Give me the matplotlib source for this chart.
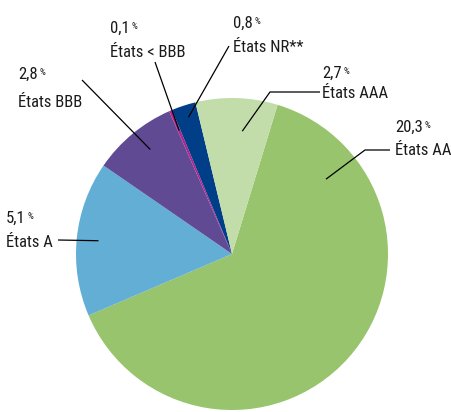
import os
import matplotlib
matplotlib.use("Agg")
import matplotlib.pyplot as plt
from matplotlib import font_manager
from matplotlib.textpath import TextPath
import numpy as np

# données (en %)
labels = ['États AA', 'États A', 'États BBB', 'États < BBB', 'États NR**', 'États AAA']
values = [20.3, 5.1, 2.8, 0.1, 0.8, 2.7]
value_txt = ['20,3', '5,1', '2,8', '0,1', '0,8', '2,7']
colors = ['#97c46c', '#62aed5', '#614a94', '#b3238e', '#003f87', '#c2dcaa']


# police sans-serif la plus étroite parmi les condensées installées
def pick_font():
    fams = ('Noto Sans', 'Roboto', 'Open Sans', 'Liberation Sans', 'DejaVu Sans', 'Lato', 'Inter')
    bad = ['Bold', 'Black', 'Light', 'Thin', 'Italic', 'Oblique', 'Heavy', 'Semi', 'Extra',
           'Mono', 'Serif', 'Math', 'Symbol', 'Code', 'CJK']
    best, best_r = None, 1e9
    for f in font_manager.fontManager.ttflist:
        base = os.path.basename(f.fname)
        if not ('Condensed' in base or 'Narrow' in base):
            continue
        if not f.name.startswith(fams) or any(b in f.name for b in ['Mono', 'CJK', 'Serif']):
            continue
        stem = base.replace('ExtraCondensed', 'XC').replace('SemiCondensed', 'SC')
        if any(b in stem for b in bad) or '[' in base:
            continue
        try:
            p = font_manager.FontProperties(fname=f.fname)
            w = TextPath((0, 0), 'États AA', size=100, prop=p).get_extents().width
            h = TextPath((0, 0), 'E', size=100, prop=p).get_extents().height
        except Exception:
            continue
        r = w / h
        if r < best_r:
            best, best_r = p, r
    if best is None:
        best = font_manager.FontProperties(family='DejaVu Sans')
    return best


fp = pick_font()

W, H = 452, 412
fig = plt.figure(figsize=(W / 100, H / 100), dpi=100)
ax = fig.add_axes([0, 0, 1, 1])

# taille : « États AA » ~56 px de large (mesuré au rendu)
rend = fig.canvas.get_renderer()
probe = fig.text(0, 0, 'États AA', fontproperties=fp, fontsize=10)
pw = probe.get_window_extent(rend).width
probe.remove()
fs = min(10 * 56 / pw, 14.5)

cx, cy, R = 232, H - 254, 156
wedges, _ = ax.pie(values, colors=colors, startangle=73, counterclock=False,
                   center=(cx, cy), radius=R, frame=True,
                   wedgeprops=dict(linewidth=0))
ax.set_xlim(0, W)
ax.set_ylim(0, H)
ax.set_aspect('equal')
ax.axis('off')

# position des étiquettes (px depuis le haut) : x, ligne chiffre, ligne texte
lab_pos = [(395, 132, 155), (6, 223, 247), (18, 79, 107),
           (110, 33, 57), (233, 28, 52), (322, 78, 98)]
# point d'ancrage dans la part : fraction d'angle, fraction de rayon
anchor = [(0.15, 0.77), (0.5, 0.86), (0.55, 0.85), (0.5, 0.86), (0.55, 0.92), (0.6, 0.79)]
# départ du trait (px depuis le haut), coude éventuel
line_start = [(390, 150, 365), (58, 240, None), (82, 80, None),
              (155, 62, None), (229, 46, None), (320, 92, 270)]

for i, w in enumerate(wedges):
    x0, yb1, yb2 = lab_pos[i]
    num = ax.text(x0, H - yb1, value_txt[i], fontproperties=fp, fontsize=fs,
                  va='baseline', ha='left', color='#1a1a1a')
    ax.annotate('%', xy=(1, 1), xycoords=num, xytext=(1.5, -1), textcoords='offset points',
                fontproperties=fp, fontsize=fs * 0.55, va='top', ha='left', color='#1a1a1a')
    ax.text(x0, H - yb2, labels[i], fontproperties=fp, fontsize=fs,
            va='baseline', ha='left', color='#1a1a1a')

    fa, fr = anchor[i]
    t1, t2 = w.theta1, w.theta2
    ang = np.deg2rad(t2 - fa * (t2 - t1))
    ex = cx + fr * R * np.cos(ang)
    ey = cy + fr * R * np.sin(ang)
    sx, sy, elbow = line_start[i]
    xs = [sx]
    ys = [H - sy]
    if elbow is not None:
        xs.append(elbow)
        ys.append(H - sy)
    xs.append(ex)
    ys.append(ey)
    ax.plot(xs, ys, color='black', lw=0.9, solid_capstyle='butt')

fig.savefig('out.png', dpi=100)
